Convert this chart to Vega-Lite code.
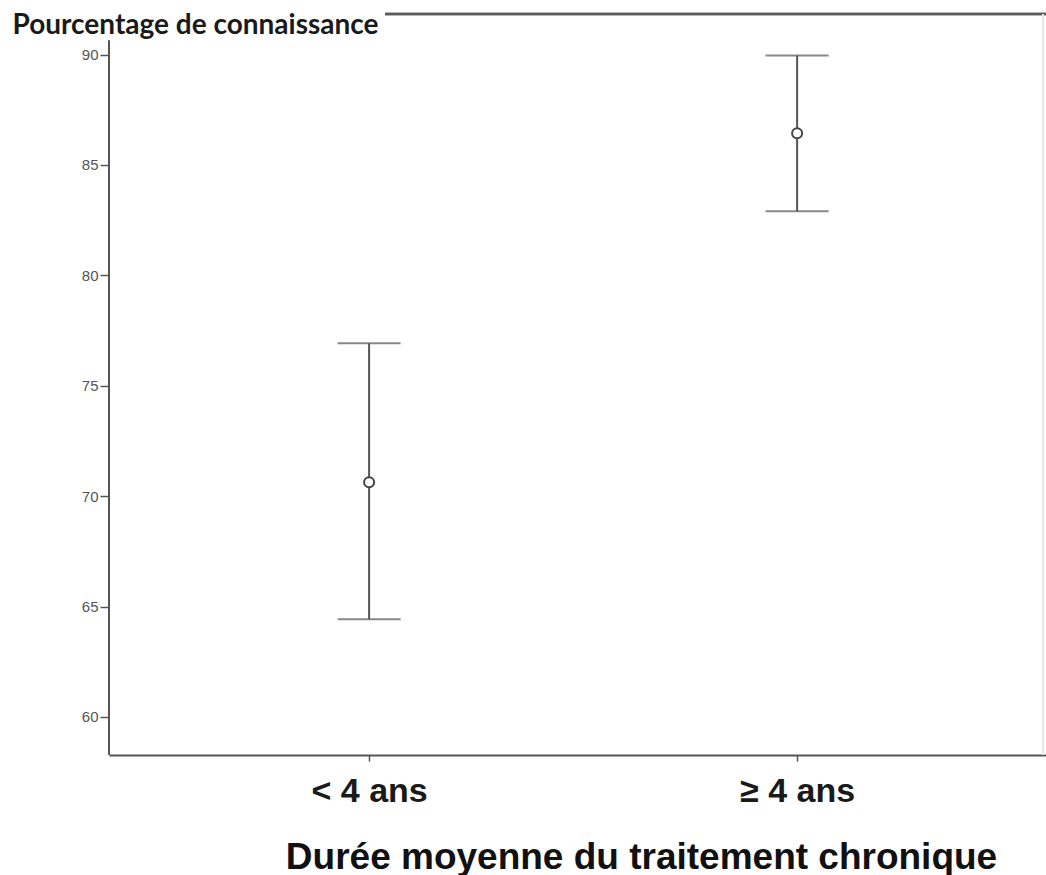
{
  "$schema": "https://vega.github.io/schema/vega-lite/v6.json",
  "autosize": {"type": "none"},
  "padding": {"left": 109, "top": 14, "right": 0, "bottom": 120},
  "width": 937,
  "height": 741,
  "background": "white",
  "config": {"view": {"stroke": null}},
  "data": {"values": [
    {"g": "< 4 ans", "mean": 70.63, "lo": 64.43, "hi": 76.92},
    {"g": "≥ 4 ans", "mean": 86.43, "lo": 82.9, "hi": 89.95}
  ]},
  "layer": [
    {
      "layer": [
        {
          "mark": {"type": "rule", "color": "#555555", "strokeWidth": 2},
          "encoding": {
            "y": {"field": "lo", "type": "quantitative"},
            "y2": {"field": "hi"}
          }
        },
        {
          "mark": {"type": "tick", "color": "#555555", "thickness": 2, "size": 63},
          "encoding": {"y": {"field": "lo", "type": "quantitative"}}
        },
        {
          "mark": {"type": "tick", "color": "#555555", "thickness": 2, "size": 63},
          "encoding": {"y": {"field": "hi", "type": "quantitative"}}
        },
        {
          "mark": {"type": "point", "shape": "circle", "filled": true, "fill": "white", "stroke": "#444444", "strokeWidth": 2, "size": 100, "opacity": 1},
          "encoding": {"y": {"field": "mean", "type": "quantitative"}}
        }
      ],
      "encoding": {
        "x": {
          "field": "g",
          "type": "ordinal",
          "sort": ["< 4 ans", "≥ 4 ans"],
          "scale": {"type": "point", "padding": 0.5946, "align": 0.511},
          "axis": {
            "title": "Durée moyenne du traitement chronique",
            "titleFont": "Liberation Sans",
            "titleFontSize": 37,
            "titleFontWeight": "bold",
            "titleColor": "#111111",
            "titleAnchor": null,
            "titleAlign": "center",
            "titleBaseline": "alphabetic",
            "titleX": 532,
            "titleY": 113,
            "labelFont": "Liberation Sans",
            "labelFontSize": 34,
            "labelFontWeight": "bold",
            "labelColor": "#1a1a1a",
            "labelAngle": 0,
            "labelPadding": 13,
            "domain": true,
            "domainColor": "#555555",
            "domainWidth": 2,
            "ticks": true,
            "tickColor": "#555555",
            "tickSize": 6,
            "tickWidth": 1.5,
            "grid": false
          }
        },
        "y": {
          "type": "quantitative",
          "scale": {"domain": [58.279, 91.834], "nice": false, "zero": false},
          "axis": {
            "values": [60, 65, 70, 75, 80, 85, 90],
            "title": "Pourcentage de connaissance",
            "titleFont": "Lato",
            "titleFontSize": 28,
            "titleFontWeight": "bold",
            "titleColor": "#1a1a1a",
            "titleAngle": 0,
            "titleAnchor": null,
            "titleAlign": "left",
            "titleBaseline": "alphabetic",
            "titleX": -97,
            "titleY": 19,
            "labelFont": "Liberation Sans",
            "labelFontSize": 15,
            "labelColor": "#555555",
            "labelPadding": 2,
            "domain": false,
            "ticks": true,
            "tickColor": "#555555",
            "tickSize": 9,
            "tickWidth": 1.5,
            "grid": false
          }
        }
      }
    },
    {
      "mark": {"type": "rule", "color": "#5a5a5a", "strokeWidth": 2.5},
      "encoding": {
        "x": {"datum": 0.2946, "type": "quantitative", "scale": {"domain": [0, 1], "nice": false, "zero": false}, "axis": null},
        "x2": {"datum": 1},
        "y": {"datum": 91.834, "type": "quantitative"}
      }
    },
    {
      "mark": {"type": "rule", "color": "#555555", "strokeWidth": 2},
      "encoding": {
        "x": {"datum": 0, "type": "quantitative", "scale": {"domain": [0, 1], "nice": false, "zero": false}, "axis": null},
        "y": {"datum": 58.279, "type": "quantitative"},
        "y2": {"datum": 90.63}
      }
    },
    {
      "mark": {"type": "rule", "color": "#e6e6e6", "strokeWidth": 1.5},
      "encoding": {
        "x": {"datum": 0.9968, "type": "quantitative", "scale": {"domain": [0, 1], "nice": false, "zero": false}, "axis": null},
        "y": {"datum": 58.279, "type": "quantitative"},
        "y2": {"datum": 91.834}
      }
    }
  ],
  "resolve": {"scale": {"x": "independent"}}
}
